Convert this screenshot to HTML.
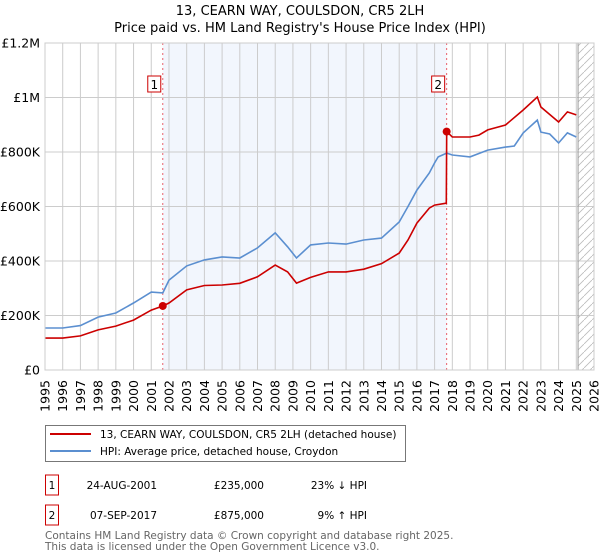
<!DOCTYPE html>
<html><head><meta charset="utf-8"><style>
body{margin:0;background:#fff;font-family:"DejaVu Sans","Liberation Sans",sans-serif;}
#wrap{position:relative;width:600px;height:560px;overflow:hidden}
</style></head><body><div id="wrap">
<svg id="chart" width="600" height="560" style="position:absolute;left:0;top:0"></svg>
</div>
<script>
const hpiYears=[1995,1996,1997,1998,1999,2000,2001,2001.65,2002,2003,2004,2005,2006,2007,2008,2008.7,2009.2,2010,2011,2012,2013,2014,2015,2015.5,2016,2016.7,2017,2017.2,2017.68,2018,2019,2020,2021,2021.5,2022,2022.8,2023,2023.5,2024,2024.5,2025];
const hpiValues=[154,154,163,194,209,246,286,283,330,382,404,415,411,448,503,452,411,459,466,462,477,484,543,600,660,723,760,782,796,789,782,807,818,822,870,917,873,866,833,870,855];
const redYears=[1995,1996,1997,1998,1999,2000,2001,2001.65,2002,2003,2004,2005,2006,2007,2008,2008.7,2009.2,2010,2011,2012,2013,2014,2015,2015.5,2016,2016.7,2017,2017.66,2017.68,2018,2019,2019.5,2020,2021,2022,2022.8,2023,2024,2024.5,2025];
const redValues=[117,117,125,147,161,183,220,235,246,294,310,312,318,342,385,360,319,340,360,360,370,390,429,477,539,594,605,612,875,855,855,862,881,899,954,1002,965,910,947,936];
const yTicks=[0,200,400,600,800,1000,1200];
const yTickLabels=["£0","£200K","£400K","£600K","£800K","£1M","£1.2M"];
const sales=[{n:"1",year:2001.65,val:235},{n:"2",year:2017.68,val:875}];
const xL=45,xR=594,yT=43,yB=370,y0=1995,y1=2026;
const X=v=>xL+(v-y0)/(y1-y0)*(xR-xL);
const Y=v=>yB-v/1200*(yB-yT);
const svg=document.getElementById('chart');const NS="http://www.w3.org/2000/svg";
function mk(t,a,p){const e=document.createElementNS(NS,t);for(const k in a)e.setAttribute(k,a[k]);(p||svg).appendChild(e);return e;}
const defs=mk('defs',{});const pat=mk('pattern',{id:'hatch',width:8,height:8,patternUnits:'userSpaceOnUse'},defs);
mk('path',{d:'M0,8 L8,0',stroke:'#bbb','stroke-width':0.8},pat);
let r=mk('rect',{x:X(sales[0].year),y:yT,width:X(sales[1].year)-X(sales[0].year),height:yB-yT,fill:'#f2f6fd'});

r=mk('rect',{x:X(2025.1),y:yT,width:xR-X(2025.1),height:yB-yT,fill:'url(#hatch)'});

for(let yr=y0;yr<=y1;yr++){let l=mk('line',{x1:X(yr),x2:X(yr),y1:yT,y2:yB,stroke:'#cccccc','stroke-width':1});

let t=mk('text',{x:0,y:0,transform:`translate(${X(yr)+4.5},${yB+10}) rotate(-90)`,'text-anchor':'end','font-size':'12.5',fill:'#000'});t.textContent=yr;
}
yTicks.forEach((v,i)=>{let l=mk('line',{x1:xL,x2:xR,y1:Y(v),y2:Y(v),stroke:'#cccccc','stroke-width':1});

let t=mk('text',{x:xL-5,y:Y(v)+4.5,'text-anchor':'end','font-size':'12.5',fill:'#000'});t.textContent=yTickLabels[i];
});
let hl=mk('line',{x1:X(2025.1),x2:X(2025.1),y1:yT,y2:yB,stroke:'#999','stroke-width':1});

sales.forEach(s=>{let l=mk('line',{x1:X(s.year),x2:X(s.year),y1:yT,y2:yB,stroke:'#e8606a','stroke-width':1,'stroke-dasharray':'2,3'});
});
function pts(xs,vs){return xs.map((x,i)=>X(x).toFixed(1)+','+Y(vs[i]).toFixed(1)).join(' ');}
let p=mk('polyline',{points:pts(hpiYears,hpiValues),fill:'none',stroke:'#5b8fd0','stroke-width':1.6});

p=mk('polyline',{points:pts(redYears,redValues),fill:'none',stroke:'#cc0000','stroke-width':1.6});

sales.forEach(s=>{let c=mk('circle',{cx:X(s.year),cy:Y(s.val),r:4,fill:'#cc0000'});

let b=mk('rect',{x:X(s.year)-15,y:76,width:13,height:16,fill:'#fff',stroke:'#cc0000','stroke-width':1});

let t=mk('text',{x:X(s.year)-8.5,y:89,'text-anchor':'middle','font-size':'12',fill:'#000'});t.textContent=s.n;
});
let ax=mk('rect',{x:xL,y:yT,width:xR-xL,height:yB-yT,fill:'none',stroke:'#cccccc'});

function txt(x,y,s,size,fill,anchor,name){let t=mk('text',{x:x,y:y,'font-size':size,fill:fill,'text-anchor':anchor||'start'});t.textContent=s;
return t;}
txt(300,15,"13, CEARN WAY, COULSDON, CR5 2LH",13,'#000','middle','chart-title');
txt(300,32,"Price paid vs. HM Land Registry's House Price Index (HPI)",13,'#000','middle','chart-subtitle');
let lg=mk('rect',{x:45.5,y:425.5,width:360,height:36,fill:'#fff',stroke:'#777'});

let l1=mk('line',{x1:50,x2:91,y1:434,y2:434,stroke:'#cc0000','stroke-width':2});
let l2=mk('line',{x1:50,x2:91,y1:451,y2:451,stroke:'#5b8fd0','stroke-width':2});
txt(100,438,"13, CEARN WAY, COULSDON, CR5 2LH (detached house)",10.5,'#000','start','legend-entry-property');
txt(100,455,"HPI: Average price, detached house, Croydon",10.5,'#000','start','legend-entry-hpi');
const rows=[["1","24-AUG-2001","£235,000","23% ↓ HPI",485],["2","07-SEP-2017","£875,000","9% ↑ HPI",515]];
rows.forEach(rw=>{let b=mk('rect',{x:45.5,y:rw[4]-10,width:13,height:20,fill:'#fff',stroke:'#cc0000'});

txt(52,rw[4]+4,rw[0],10.5,'#000','middle','table-index');
txt(157,rw[4]+4,rw[1],10.5,'#000','end','table-date');
txt(264,rw[4]+4,rw[2],10.5,'#000','end','table-price');
txt(367,rw[4]+4,rw[3],10.5,'#000','end','table-hpi-diff');});
txt(45,539,"Contains HM Land Registry data © Crown copyright and database right 2025.",10.5,'#666','start','footer-line1');
txt(45,550,"This data is licensed under the Open Government Licence v3.0.",10.5,'#666','start','footer-line2');
</script></body></html>
